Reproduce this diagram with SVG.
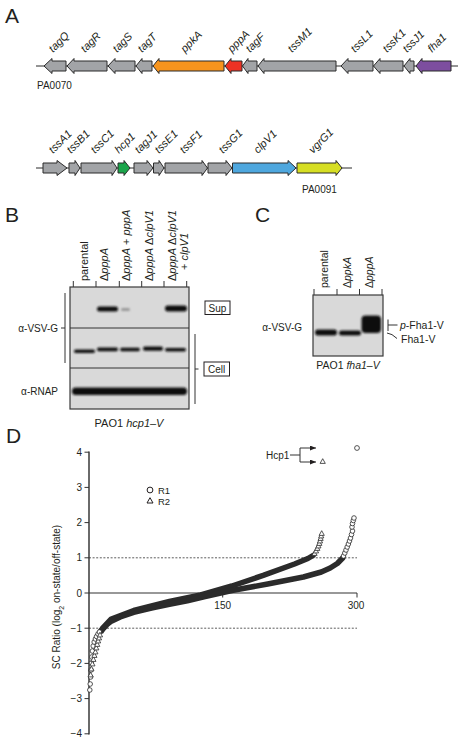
<svg xmlns="http://www.w3.org/2000/svg" width="463" height="742" viewBox="0 0 463 742">
<style>
text{font-family:"Liberation Sans",Arial,sans-serif;fill:#231f20}
.pl{font-size:21px}
.gl{font-size:11px;font-style:italic}
.it{font-style:italic}
.g{stroke:#2b2b2b;stroke-width:1}
.gr{fill:#a2a4a7}
.bb{stroke:#2b2b2b;stroke-width:1;fill:none}
.blot{fill:#d9d9d9;stroke:#3a3a3a;stroke-width:1.2}
.band{fill:#111;filter:url(#bl)}
.ln{stroke:#333;stroke-width:1;fill:none}
.m{fill:#fff;stroke:#2a2a2a;stroke-width:0.8}
.dash{stroke:#333;stroke-width:0.8;stroke-dasharray:2 1.6;fill:none}
.crv{fill:none;stroke:#2b2b2b;stroke-width:5.5;stroke-linecap:round;stroke-linejoin:round}
.s10{font-size:10px}
.s11{font-size:11px}
</style>
<defs>
<filter id="bl" x="-20%" y="-50%" width="140%" height="200%"><feGaussianBlur stdDeviation="0.8"/></filter>
<marker id="ar" viewBox="0 0 6 5" refX="6" refY="2.5" markerWidth="6" markerHeight="5" markerUnits="userSpaceOnUse" orient="auto"><path d="M0,0 L6,2.5 L0,5 Z" fill="#231f20"/></marker>
<path id="tri" d="M0,-2.8 L2.6,1.9 L-2.6,1.9 Z"/>
</defs>

<g id="panelA">
<text class="pl" x="5" y="23">A</text>
<line class="bb" x1="36" y1="66" x2="458" y2="66"/>
<g id="genes1">
<polygon class="g gr" points="44,66 52,58.5 52,61 66,61 66,71 52,71 52,73.5"/>
<polygon class="g gr" points="67,66 74,58.5 74,61 107,61 107,71 74,71 74,73.5"/>
<polygon class="g gr" points="108,66 115,58.5 115,61 135,61 135,71 115,71 115,73.5"/>
<polygon class="g gr" points="136,66 142,58.5 142,61 152,61 152,71 142,71 142,73.5"/>
<polygon class="g" fill="#f7941d" points="153,66 159,58.5 159,61 224,61 224,71 159,71 159,73.5"/>
<polygon class="g" fill="#ed3224" points="225,66 231,58.5 231,61 242,61 242,71 231,71 231,73.5"/>
<polygon class="g gr" points="242.5,66 248,58.5 248,61 257,61 257,71 248,71 248,73.5"/>
<polygon class="g gr" points="258,66 264,58.5 264,61 336,61 336,71 264,71 264,73.5"/>
<polygon class="g gr" points="341,66 348,58.5 348,61 373,61 373,71 348,71 348,73.5"/>
<polygon class="g gr" points="373.5,66 380,58.5 380,61 403,61 403,71 380,71 380,73.5"/>
<polygon class="g gr" points="404,66 410,58.5 410,61 414,61 414,71 410,71 410,73.5"/>
<polygon class="g" fill="#7d4e9f" points="416,66 422,58.5 422,61 451,61 451,71 422,71 422,73.5"/>
</g>
<g id="labels1">
<text class="gl" x="53" y="53" transform="rotate(-45 53 53)">tagQ</text>
<text class="gl" x="85" y="53" transform="rotate(-45 85 53)">tagR</text>
<text class="gl" x="117" y="53" transform="rotate(-45 117 53)">tagS</text>
<text class="gl" x="142" y="53" transform="rotate(-45 142 53)">tagT</text>
<text class="gl" x="185" y="53" transform="rotate(-45 185 53)">ppkA</text>
<text class="gl" x="232" y="53" transform="rotate(-45 232 53)">pppA</text>
<text class="gl" x="250" y="53" transform="rotate(-45 250 53)">tagF</text>
<text class="gl" x="292" y="53" transform="rotate(-45 292 53)">tssM1</text>
<text class="gl" x="355" y="53" transform="rotate(-45 355 53)">tssL1</text>
<text class="gl" x="387" y="53" transform="rotate(-45 387 53)">tssK1</text>
<text class="gl" x="407" y="53" transform="rotate(-45 407 53)">tssJ1</text>
<text class="gl" x="432" y="53" transform="rotate(-45 432 53)">fha1</text>
</g>
<text class="s10" x="37" y="89">PA0070</text>

<line class="bb" x1="36" y1="168" x2="352" y2="168"/>
<g id="genes2">
<polygon class="g gr" points="43,163 57,163 57,160.5 67,168 57,175.5 57,173 43,173"/>
<polygon class="g gr" points="69,163 75,163 75,160.5 80,168 75,175.5 75,173 69,173"/>
<polygon class="g gr" points="81,163 112,163 112,160.5 117,168 112,175.5 112,173 81,173"/>
<polygon class="g" fill="#1ba54b" points="118,163 124,163 124,160.5 130,168 124,175.5 124,173 118,173"/>
<polygon class="g gr" points="134,163 147,163 147,160.5 153,168 147,175.5 147,173 134,173"/>
<polygon class="g gr" points="153.5,163 159,163 159,160.5 164,168 159,175.5 159,173 153.5,173"/>
<polygon class="g gr" points="165,163 202,163 202,160.5 207.5,168 202,175.5 202,173 165,173"/>
<polygon class="g gr" points="208,163 226,163 226,160.5 232,168 226,175.5 226,173 208,173"/>
<polygon class="g" fill="#4ea7de" points="232.5,163 288,163 288,160.5 296,168 288,175.5 288,173 232.5,173"/>
<polygon class="g" fill="#d6de23" points="297,163 336,163 336,160.5 342,168 336,175.5 336,173 297,173"/>
</g>
<g id="labels2">
<text class="gl" x="53" y="154" transform="rotate(-45 53 154)">tssA1</text>
<text class="gl" x="71" y="154" transform="rotate(-45 71 154)">tssB1</text>
<text class="gl" x="95" y="154" transform="rotate(-45 95 154)">tssC1</text>
<text class="gl" x="119" y="154" transform="rotate(-45 119 154)">hcp1</text>
<text class="gl" x="139" y="154" transform="rotate(-45 139 154)">tagJ1</text>
<text class="gl" x="159" y="154" transform="rotate(-45 159 154)">tssE1</text>
<text class="gl" x="184" y="154" transform="rotate(-45 184 154)">tssF1</text>
<text class="gl" x="223" y="154" transform="rotate(-45 223 154)">tssG1</text>
<text class="gl" x="258" y="154" transform="rotate(-45 258 154)">clpV1</text>
<text class="gl" x="313" y="154" transform="rotate(-45 313 154)">vgrG1</text>
</g>
<text class="s10" x="302" y="193">PA0091</text>
</g>

<g id="panelB">
<text class="pl" x="5" y="222">B</text>
<g id="laneLabelsB" class="s11">
<text transform="translate(88,281) rotate(-90)">parental</text>
<text transform="translate(108,281) rotate(-90)">Δ<tspan class="it">pppA</tspan></text>
<text transform="translate(130,281) rotate(-90)">Δ<tspan class="it">pppA</tspan> + <tspan class="it">pppA</tspan></text>
<text transform="translate(153,281) rotate(-90)">Δ<tspan class="it">pppA</tspan> Δ<tspan class="it">clpV1</tspan></text>
<text transform="translate(176,281) rotate(-90)">Δ<tspan class="it">pppA</tspan> Δ<tspan class="it">clpV1</tspan></text>
<text transform="translate(188,270) rotate(-90)">+ <tspan class="it">clpV1</tspan></text>
</g>
<path class="ln" d="M73.3,281 V287 M96,281 V287 M119.3,281 V287 M141.7,281 V287 M164,281 V287 M186.7,281 V287"/>
<rect class="blot" x="70" y="287" width="119" height="122"/>
<path class="ln" stroke-width="1.2" d="M70,328 H189 M70,368 H189"/>
<g id="bandsB">
<rect class="band" x="97" y="306.5" width="21" height="5" rx="2.5"/>
<rect class="band" x="121" y="308" width="9" height="3" rx="1.5" fill="#8a8a8a" style="fill:#9a9a9a"/>
<rect class="band" x="165" y="305.5" width="22" height="6" rx="3"/>
<rect class="band" x="74" y="349.5" width="21" height="3.5" rx="1.7"/>
<rect class="band" x="97" y="347.5" width="21" height="3.8" rx="1.8"/>
<rect class="band" x="120" y="347.7" width="20" height="3.6" rx="1.8"/>
<rect class="band" x="143" y="346.5" width="20" height="4.2" rx="2"/>
<rect class="band" x="165" y="348" width="21" height="3.6" rx="1.8"/>
<rect class="band" x="72" y="387.5" width="115" height="7.5" rx="3.5"/>
</g>
<text class="s10" x="58" y="331.5" text-anchor="end">α-VSV-G</text>
<text class="s10" x="58" y="394.5" text-anchor="end">α-RNAP</text>
<path class="ln" d="M61,328 H65 M65,293 V363"/>
<path class="ln" d="M195,334 V404 M195,369 H198.5"/>
<rect x="205" y="301" width="25" height="13.5" fill="none" stroke="#231f20" stroke-width="1"/>
<text class="s10" x="217.5" y="311.5" text-anchor="middle">Sup</text>
<rect x="204" y="362" width="25.5" height="14" fill="none" stroke="#231f20" stroke-width="1"/>
<text class="s10" x="216.7" y="372.8" text-anchor="middle">Cell</text>
<text class="s11" x="129" y="427" text-anchor="middle">PAO1 <tspan class="it">hcp1–V</tspan></text>
</g>

<g id="panelC">
<text class="pl" x="255" y="222">C</text>
<g class="s11" style="font-size:10.5px">
<text transform="translate(328,288) rotate(-90)">parental</text>
<text transform="translate(351,288) rotate(-90)">Δ<tspan class="it">ppkA</tspan></text>
<text transform="translate(373,288) rotate(-90)">Δ<tspan class="it">pppA</tspan></text>
</g>
<path class="ln" d="M314,289 V295 M337,289 V295 M359.5,289 V295 M382,289 V295"/>
<rect class="blot" x="313" y="295" width="70" height="61"/>
<rect class="band" x="315" y="329.5" width="22" height="6" rx="3"/>
<rect class="band" x="339" y="330.5" width="22" height="5" rx="2.5"/>
<rect class="band" x="361.5" y="315.5" width="19.5" height="17.5" rx="4"/>
<text class="s10" x="302" y="331" text-anchor="end">α-VSV-G</text>
<path class="ln" d="M388,319.5 V331 M388,325 H397.5"/>
<path class="ln" d="M387,333 Q392,333.5 397,338.5"/>
<text style="font-size:10.5px" x="400" y="329"><tspan class="it">p</tspan>-Fha1-V</text>
<text style="font-size:10.5px" x="401" y="343">Fha1-V</text>
<text style="font-size:10.5px" x="348" y="369" text-anchor="middle">PAO1 <tspan class="it">fha1–V</tspan></text>
</g>

<g id="panelD">
<text class="pl" x="6" y="443">D</text>
<g id="axes">
<line x1="89" y1="451.5" x2="89" y2="734.5" stroke="#5a5a5a" stroke-width="1.8"/>
<line x1="89" y1="593" x2="357" y2="593" stroke="#333" stroke-width="1.2"/>
<path class="ln" d="M84.5,452.2 H89 M84.5,487.4 H89 M84.5,522.6 H89 M84.5,557.8 H89 M84.5,593 H89 M84.5,628.2 H89 M84.5,663.4 H89 M84.5,698.6 H89 M84.5,733.8 H89 M222.7,593 V597.5 M357,593 V597.5"/>
<line class="dash" x1="89" y1="557.8" x2="357" y2="557.8"/>
<line class="dash" x1="89" y1="628.2" x2="357" y2="628.2"/>
<g class="s10" text-anchor="end">
<text x="82" y="455.7">4</text>
<text x="82" y="490.9">3</text>
<text x="82" y="526.1">2</text>
<text x="82" y="561.3">1</text>
<text x="82" y="596.5">0</text>
<text x="82" y="631.7">−1</text>
<text x="82" y="666.9">−2</text>
<text x="82" y="702.1">−3</text>
<text x="82" y="737.3">−4</text>
</g>
<text class="s10" x="222.7" y="609" text-anchor="middle">150</text>
<text class="s10" x="356" y="609" text-anchor="middle">300</text>
<text class="s10" transform="translate(60,597) rotate(-90)" text-anchor="middle">SC Ratio (log<tspan baseline-shift="sub" style="font-size:7px">2</tspan> on-state/off-state)</text>
</g>
<g id="data">
<path class="crv" d="M101.5,631 L102.4,628.5 L111.3,619 L133.7,610.5 L169.4,601.5 L200.7,595 L231.9,586 L263.2,575.4 L294.5,564 L307.9,558.5 L313,555.5"/>
<path class="crv" d="M101,630.5 L102.4,629.5 L106.9,624.7 L111.3,621.2 L120.3,617 L133.7,612.4 L151.5,608.1 L169.4,604.3 L187.3,600.7 L205.1,596.5 L231.9,590.5 L267.7,584 L303.4,577 L321.3,572 L330.2,568 L337.3,563.5 L342.7,558"/>
<g id="r1">
<circle class="m" cx="89.8" cy="690" r="2.3"/>
<circle class="m" cx="90.2" cy="684" r="2.3"/>
<circle class="m" cx="90.6" cy="677" r="2.3"/>
<circle class="m" cx="91" cy="670" r="2.3"/>
<circle class="m" cx="91.4" cy="663" r="2.3"/>
<circle class="m" cx="91.8" cy="657" r="2.3"/>
<circle class="m" cx="92.4" cy="651" r="2.3"/>
<circle class="m" cx="93.2" cy="646" r="2.3"/>
<circle class="m" cx="94.2" cy="642" r="2.3"/>
<circle class="m" cx="95.4" cy="639" r="2.3"/>
<circle class="m" cx="96.6" cy="636.5" r="2.3"/>
<circle class="m" cx="98" cy="634" r="2.3"/>
<circle class="m" cx="99.4" cy="632" r="2.3"/>
<circle class="m" cx="343.5" cy="556" r="2.3"/>
<circle class="m" cx="344.8" cy="553" r="2.3"/>
<circle class="m" cx="346" cy="550" r="2.3"/>
<circle class="m" cx="347.2" cy="547" r="2.3"/>
<circle class="m" cx="348.4" cy="544" r="2.3"/>
<circle class="m" cx="349.5" cy="541" r="2.3"/>
<circle class="m" cx="350.5" cy="538" r="2.3"/>
<circle class="m" cx="351.5" cy="534.5" r="2.3"/>
<circle class="m" cx="352.5" cy="531" r="2.3"/>
<circle class="m" cx="352" cy="527" r="2.3"/>
<circle class="m" cx="352.5" cy="523.5" r="2.3"/>
<circle class="m" cx="353.3" cy="520.5" r="2.3"/>
<circle class="m" cx="354" cy="518" r="2.3"/>
<circle class="m" cx="357" cy="448" r="2.4"/>
</g>
<g id="r2" class="m">
<use href="#tri" x="90.6" y="675"/>
<use href="#tri" x="91.4" y="669"/>
<use href="#tri" x="92.4" y="664"/>
<use href="#tri" x="93.4" y="659.5"/>
<use href="#tri" x="94.4" y="655.5"/>
<use href="#tri" x="95.4" y="652"/>
<use href="#tri" x="96.3" y="648"/>
<use href="#tri" x="97.2" y="644.5"/>
<use href="#tri" x="98.1" y="641"/>
<use href="#tri" x="99" y="638"/>
<use href="#tri" x="100" y="635"/>
<use href="#tri" x="314.5" y="553.5"/>
<use href="#tri" x="316" y="551"/>
<use href="#tri" x="317.3" y="548.5"/>
<use href="#tri" x="318.4" y="546"/>
<use href="#tri" x="319.3" y="543.5"/>
<use href="#tri" x="320" y="541"/>
<use href="#tri" x="320.6" y="538.5"/>
<use href="#tri" x="321.2" y="536"/>
<use href="#tri" x="321.7" y="533.5"/>
<use href="#tri" x="322.7" y="461.5"/>
</g>
</g>
<g id="legend">
<circle cx="150" cy="490" r="2.9" fill="#fff" stroke="#231f20" stroke-width="1"/>
<text style="font-size:9.5px" x="158" y="493.5">R1</text>
<path d="M150,497.7 L153,503 L147,503 Z" fill="#fff" stroke="#231f20" stroke-width="1"/>
<text style="font-size:9.5px" x="158" y="504.5">R2</text>
</g>
<g id="connectors">
<text class="s10" x="266" y="459">Hcp1</text>
<path class="ln" stroke-width="0.9" d="M290,455 H300 M300,448 V462"/>
<line class="ln" stroke-width="0.9" x1="300" y1="448" x2="316" y2="448" marker-end="url(#ar)"/>
<line class="ln" stroke-width="0.9" x1="300" y1="462" x2="316" y2="462" marker-end="url(#ar)"/>
</g>
</g>
</svg>
